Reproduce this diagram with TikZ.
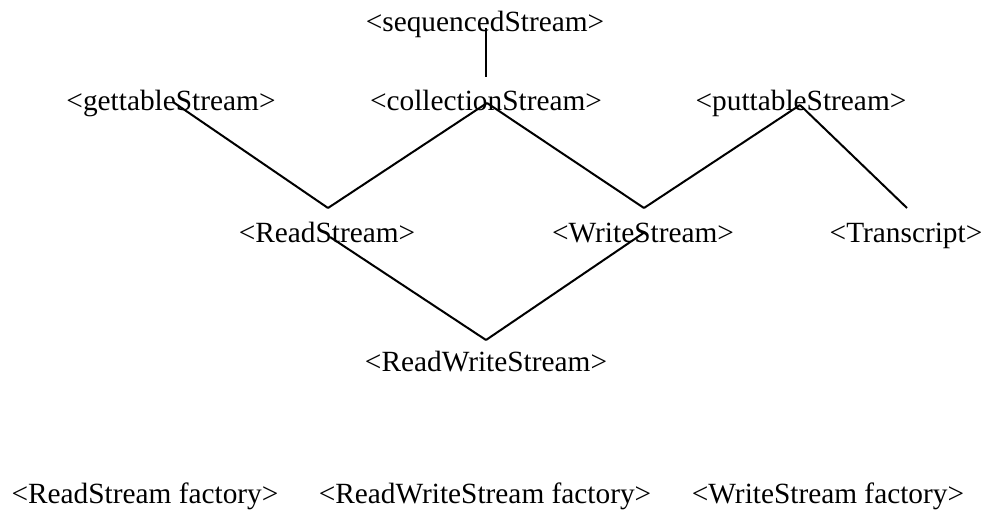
\documentclass[tikz,border=0pt]{standalone}
\usepackage{fontspec}
\setmainfont{Liberation Serif}
\usetikzlibrary{positioning}
\tikzset{
	protonode/.style = {
		inner sep=0pt,
		anchor=base,
		font=\fontsize{22}{26}\selectfont
	},
	factnode/.style = {
		protonode
	},
	link/.style = {
		line width=1.5pt,
		black
	},
}
\begin{document}
\begin{tikzpicture}[x=0.75pt,y=-0.75pt]
\useasboundingbox (0,0) rectangle (984,510);
% protocols
\node [protonode] (seq) at (485,32) {<sequencedStream>};
\node [protonode] (get) at (171,110) {<gettableStream>};
\node [protonode] (coll) at (486,110) {<collectionStream>};
\node [protonode] (put) at (801,110) {<puttableStream>};
\node [protonode] (read) at (327,242) {<ReadStream>};
\node [protonode] (write) at (643,242) {<WriteStream>};
\node [protonode] (trans) at (906,242) {<Transcript>};
\node [protonode] (rw) at (486,371) {<ReadWriteStream>};
% factories
\node [factnode] (rfact) at (145,503) {<ReadStream factory>};
\node [factnode] (rwfact) at (485,503) {<ReadWriteStream factory>};
\node [factnode] (wfact) at (828,503) {<WriteStream factory>};
% joints
\coordinate (seqJ) at (486,28);
\coordinate (collUp) at (486,77);
\coordinate (getJ) at (173,102);
\coordinate (readUp) at (328,208);
\coordinate (collJ) at (487,103);
\coordinate (writeUp) at (644,208);
\coordinate (putJ) at (800,105);
\coordinate (transUp) at (907,208);
\coordinate (readJ) at (330,237);
\coordinate (rwUp) at (486,340);
\coordinate (writeJ) at (645,232);
\draw [link] (seqJ) -- (collUp);
\draw [link] (getJ) -- (readUp);
\draw [link] (collJ) -- (readUp);
\draw [link] (collJ) -- (writeUp);
\draw [link] (putJ) -- (writeUp);
\draw [link] (putJ) -- (transUp);
\draw [link] (readJ) -- (rwUp);
\draw [link] (writeJ) -- (rwUp);
\end{tikzpicture}
\end{document}
